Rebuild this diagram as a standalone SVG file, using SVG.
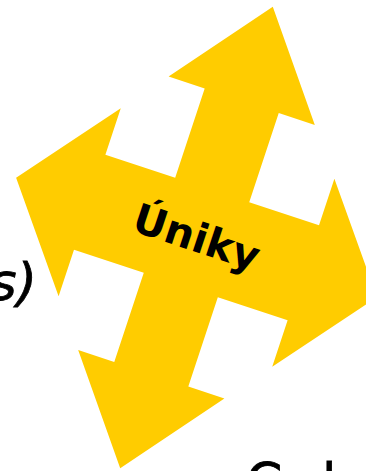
<svg xmlns="http://www.w3.org/2000/svg" width="366" height="471" viewBox="0 0 366 471">
<style>
.arrow{fill:#FFCC00;stroke:none}
.lbl{font-family:"DejaVu Sans",sans-serif;font-weight:bold;font-size:41px;fill:#000}
.side{font-family:"DejaVu Sans",sans-serif;font-size:52px;fill:#000;stroke:#000;stroke-width:0.8}
</style>
<rect width="366" height="471" fill="#fff"/>
<g id="uniky" transform="translate(196.5,237.5) rotate(18.3)">
<polygon class="arrow" points="0,-243 77,-144 39,-144 39,-50 112.5,-50 112.5,-99 190,0 112.5,99 112.5,50 39,50 39,144 77,144 0,243 -77,144 -39,144 -39,50 -112.5,50 -112.5,99 -190,0 -112.5,-99 -112.5,-50 -39,-50 -39,-144 -77,-144"/>
<text class="lbl" x="0" y="14" text-anchor="middle">Úniky</text>
</g>
<g id="connectors"></g>
<g id="left-text"><text class="side" x="37" y="300" text-anchor="end" font-style="italic" font-size="54">s)</text></g>
<g id="bottom-text"><text class="side" x="246" y="500" font-size="48">C<tspan x="322">l</tspan></text></g>
</svg>
